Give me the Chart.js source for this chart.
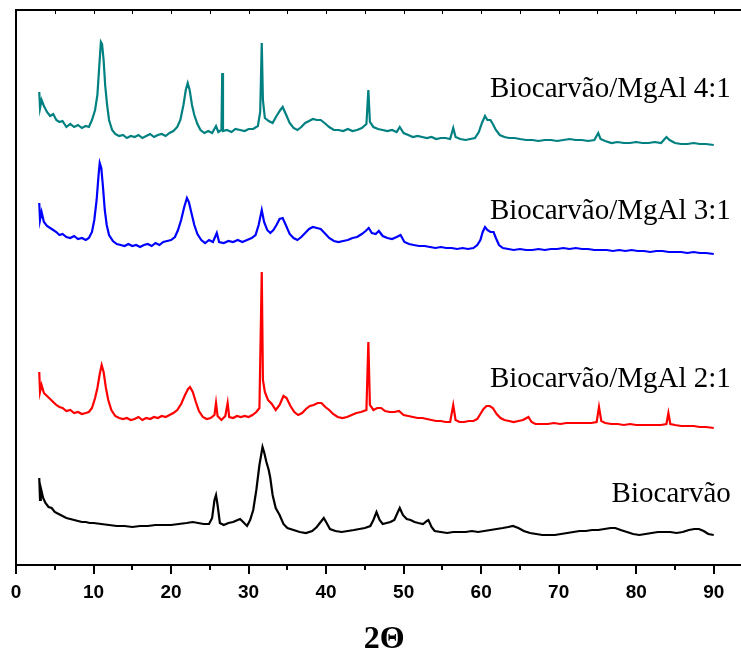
<!DOCTYPE html>
<html>
<head>
<meta charset="utf-8">
<script src="https://cdn.jsdelivr.net/npm/chart.js@4/dist/chart.umd.min.js"></script>
<style>
  html, body { margin: 0; padding: 0; background: #fff; overflow: hidden; }
  #wrap { width: 741px; height: 651px; overflow: hidden; }
</style>
</head>
<body>
<div id="wrap"><canvas id="myChart" width="768" height="651"></canvas></div>
<script>
// XRD patterns, [2theta, intensity (a.u., offset for stacking)]
const mgal41 = [[3.0,475],[3.1,459],[3.3,467],[3.6,461],[4.0,455],[4.4,451],[4.8,453],[5.2,447],[5.6,445],[6.0,446],[6.5,440],[7.0,443],[7.5,440],[8.0,442],[8.5,439],[9.0,441],[9.4,440],[9.8,447],[10.2,457],[10.5,472],[10.75,502],[10.95,525],[11.1,523],[11.3,507],[11.5,482],[11.75,462],[12.0,447],[12.4,437],[12.8,433],[13.3,431],[13.8,432],[14.3,429],[14.8,431],[15.3,430],[15.8,432],[16.3,429],[16.8,431],[17.3,433],[17.8,430],[18.3,432],[18.8,433],[19.3,431],[19.8,434],[20.3,436],[20.8,440],[21.2,447],[21.6,462],[21.9,477],[22.15,484],[22.4,477],[22.7,462],[23.0,452],[23.4,443],[23.8,437],[24.3,434],[24.8,436],[25.3,434],[25.8,441],[26.1,435],[26.5,437],[26.6,494],[26.7,436],[27.2,437],[27.8,435],[28.3,438],[28.9,437],[29.5,436],[30.0,438],[30.6,438],[31.2,441],[31.5,455],[31.7,524],[31.85,467],[32.1,449],[32.6,446],[33.1,444],[33.6,451],[34.1,457],[34.4,460],[34.8,453],[35.3,444],[35.8,439],[36.3,437],[36.8,440],[37.3,444],[37.8,446],[38.3,448],[38.8,447],[39.3,447],[39.8,444],[40.4,440],[41.0,437],[41.6,437],[42.2,436],[42.8,438],[43.4,436],[44.0,437],[44.6,439],[45.2,443],[45.45,477],[45.65,445],[46.1,440],[46.7,438],[47.3,437],[47.9,436],[48.5,437],[49.1,435],[49.5,440],[50.0,434],[50.6,432],[51.2,430],[51.8,431],[52.4,430],[53.0,429],[53.6,430],[54.2,428],[54.8,429],[55.4,429],[56.0,428],[56.4,439],[56.7,430],[57.3,428],[58.0,427],[58.6,428],[59.2,429],[59.7,435],[60.1,444],[60.5,451],[60.8,447],[61.2,447],[61.5,443],[61.9,437],[62.4,432],[63.0,430],[63.6,429],[64.3,429],[65.0,428],[65.8,427],[66.6,427],[67.4,426],[68.2,427],[69.0,427],[69.8,426],[70.6,427],[71.4,428],[72.2,427],[73.0,427],[73.8,426],[74.6,427],[75.1,434],[75.4,428],[76.0,426],[76.8,424],[77.6,425],[78.4,424],[79.2,424],[80.0,425],[80.8,424],[81.6,424],[82.4,425],[83.2,424],[83.9,430],[84.3,427],[85.0,424],[85.8,423],[86.6,423],[87.4,424],[88.2,423],[89.0,423],[90.0,422]];

const mgal31 = [[3.0,364],[3.1,347],[3.3,355],[3.6,345],[4.0,341],[4.4,339],[4.8,337],[5.2,335],[5.6,332],[6.0,333],[6.5,330],[7.0,329],[7.5,331],[8.0,328],[8.5,329],[9.0,327],[9.4,329],[9.8,335],[10.1,347],[10.4,367],[10.65,392],[10.8,404],[11.0,399],[11.2,382],[11.45,357],[11.7,342],[12.0,332],[12.5,326],[13.0,323],[13.5,322],[14.0,321],[14.5,323],[15.0,321],[15.5,322],[16.0,320],[16.5,322],[17.0,323],[17.5,321],[18.0,324],[18.5,322],[19.0,325],[19.5,326],[20.0,327],[20.5,330],[20.9,337],[21.3,347],[21.7,360],[22.05,369],[22.3,365],[22.6,355],[23.0,342],[23.4,333],[23.9,327],[24.4,324],[24.9,327],[25.4,325],[25.9,334],[26.2,325],[26.8,324],[27.4,326],[28.0,325],[28.6,327],[29.2,325],[29.8,327],[30.4,329],[30.9,332],[31.3,342],[31.7,357],[32.0,345],[32.4,337],[32.8,334],[33.2,337],[33.6,342],[34.0,348],[34.4,349],[34.8,342],[35.3,333],[35.8,329],[36.3,327],[36.8,330],[37.3,334],[37.8,338],[38.3,340],[38.8,339],[39.3,338],[39.8,334],[40.4,329],[41.0,326],[41.6,325],[42.2,326],[42.8,327],[43.4,329],[44.0,330],[44.6,333],[45.1,336],[45.5,339],[45.9,334],[46.4,333],[46.8,336],[47.3,331],[47.9,329],[48.5,328],[49.1,330],[49.6,332],[50.1,325],[50.7,323],[51.3,322],[52.0,321],[52.7,321],[53.4,320],[54.1,319],[54.8,320],[55.5,319],[56.2,319],[56.9,318],[57.6,319],[58.3,318],[59.0,319],[59.5,322],[59.9,327],[60.2,335],[60.5,340],[60.8,337],[61.2,335],[61.6,335],[61.9,329],[62.3,322],[62.8,319],[63.5,318],[64.2,317],[65.0,318],[65.8,317],[66.6,317],[67.4,318],[68.2,317],[69.0,318],[69.8,318],[70.6,319],[71.4,318],[72.2,319],[73.0,318],[73.8,318],[74.6,317],[75.4,317],[76.2,317],[77.0,316],[77.8,317],[78.6,316],[79.4,317],[80.2,316],[81.0,316],[81.8,315],[82.6,316],[83.4,316],[84.2,315],[85.0,315],[85.8,315],[86.6,314],[87.4,315],[88.2,314],[89.0,314],[90.0,313]];

const mgal21 = [[3.0,195],[3.1,175],[3.3,182],[3.6,174],[4.0,171],[4.4,168],[4.8,165],[5.2,162],[5.6,160],[6.0,159],[6.5,156],[7.0,157],[7.5,154],[8.0,155],[8.5,153],[9.0,154],[9.4,155],[9.8,159],[10.2,169],[10.5,179],[10.8,193],[11.05,202],[11.3,195],[11.6,179],[11.9,167],[12.3,157],[12.8,151],[13.3,149],[13.8,148],[14.3,149],[14.8,147],[15.3,148],[15.8,150],[16.3,147],[16.8,149],[17.3,148],[17.8,150],[18.3,149],[18.8,151],[19.3,150],[19.8,152],[20.3,154],[20.8,157],[21.3,163],[21.8,172],[22.2,178],[22.45,180],[22.8,175],[23.2,165],[23.6,156],[24.1,150],[24.6,148],[25.1,149],[25.6,152],[25.8,164],[26.0,151],[26.5,147],[27.0,151],[27.3,164],[27.5,150],[28.0,149],[28.5,151],[29.0,150],[29.5,151],[30.0,150],[30.5,152],[31.0,155],[31.4,159],[31.7,295],[31.85,187],[32.1,175],[32.5,167],[33.0,163],[33.5,157],[34.0,162],[34.5,171],[34.9,169],[35.4,161],[35.9,155],[36.4,152],[36.9,154],[37.4,158],[37.9,161],[38.4,162],[38.9,164],[39.4,164],[39.9,160],[40.4,157],[40.9,153],[41.5,150],[42.1,149],[42.7,150],[43.3,152],[43.9,154],[44.5,155],[45.2,157],[45.45,225],[45.65,162],[46.1,157],[46.6,159],[47.1,159],[47.6,156],[48.2,155],[48.8,155],[49.4,156],[50.0,152],[50.6,151],[51.2,150],[51.8,149],[52.4,149],[53.0,148],[53.6,147],[54.2,146],[54.8,146],[55.4,145],[56.0,145],[56.4,162],[56.7,147],[57.2,145],[57.8,145],[58.4,146],[59.0,146],[59.5,148],[59.9,153],[60.3,158],[60.7,161],[61.1,161],[61.5,159],[62.0,153],[62.5,149],[63.0,147],[63.6,146],[64.2,145],[64.8,146],[65.4,147],[66.1,150],[66.5,145],[67.0,143],[67.8,143],[68.6,143],[69.4,144],[70.2,143],[71.0,144],[71.8,144],[72.6,144],[73.4,144],[74.2,144],[74.9,145],[75.2,160],[75.5,146],[76.0,144],[76.8,143],[77.6,143],[78.4,142],[79.2,143],[80.0,142],[80.8,142],[81.6,142],[82.4,142],[83.2,142],[83.9,143],[84.15,154],[84.4,143],[85.0,142],[85.8,141],[86.6,141],[87.4,141],[88.2,140],[89.0,140],[90.0,139]];

const biochar = [[3.0,89],[3.1,67],[3.2,79],[3.5,69],[3.8,64],[4.2,60],[4.6,59],[5.0,55],[5.5,53],[6.0,51],[6.5,49],[7.0,48],[7.5,47],[8.0,46],[8.5,45],[9.0,45],[9.5,44],[10.0,44],[11.0,43],[12.0,42],[13.0,41],[14.0,41],[15.0,40],[16.0,41],[17.0,41],[18.0,42],[19.0,42],[20.0,42],[21.0,43],[22.0,44],[22.8,45],[23.5,44],[24.2,43],[24.9,43],[25.3,49],[25.6,67],[25.8,72],[26.0,62],[26.3,44],[26.8,42],[27.4,44],[28.0,45],[28.6,47],[28.9,48],[29.3,45],[29.8,41],[30.2,47],[30.6,57],[31.0,77],[31.4,102],[31.8,120],[32.0,115],[32.3,105],[32.6,97],[32.8,89],[33.1,72],[33.5,59],[34.0,52],[34.5,43],[35.0,39],[35.8,37],[36.6,35],[37.4,34],[38.2,36],[38.8,40],[39.4,46],[39.7,49],[40.0,45],[40.5,38],[41.2,36],[42.0,35],[42.8,36],[43.6,37],[44.3,38],[45.0,39],[45.7,41],[46.1,47],[46.5,55],[46.9,47],[47.3,43],[47.8,44],[48.3,45],[48.8,47],[49.2,54],[49.5,59],[49.9,52],[50.4,48],[50.9,47],[51.4,45],[51.9,44],[52.5,43],[53.0,46],[53.2,47],[53.6,40],[54.0,36],[54.8,35],[55.6,34],[56.4,35],[57.2,35],[58.0,35],[58.8,36],[59.6,35],[60.4,36],[61.2,37],[62.0,38],[62.8,39],[63.5,40],[64.1,41],[64.8,39],[65.5,36],[66.3,34],[67.1,33],[67.9,32],[68.7,32],[69.5,32],[70.3,33],[71.1,34],[71.9,35],[72.7,36],[73.5,36],[74.3,37],[75.1,37],[75.9,38],[76.7,39],[77.3,39],[78.0,37],[78.8,35],[79.6,33],[80.4,32],[81.2,33],[82.0,34],[82.8,35],[83.6,35],[84.4,35],[85.2,34],[86.0,35],[86.8,37],[87.5,38],[88.1,38],[88.7,36],[89.3,33],[90.0,32]];

const seriesNames = ["Biocarvão/MgAl 4:1", "Biocarvão/MgAl 3:1", "Biocarvão/MgAl 2:1", "Biocarvão"];
const seriesColors = ["#008080", "#0000ff", "#ff0000", "#000000"];
const seriesData = [mgal41, mgal31, mgal21, biochar];
// where each curve's name sits: [2theta of right edge, intensity of baseline]
const labelAnchors = [[92.2, 470], [92.2, 348], [92.2, 180], [92.2, 65]];
const majorTicks = [0, 10, 20, 30, 40, 50, 60, 70, 80, 90];
const xTitle = "2Θ";

const frameAndLabels = {
  id: "frameAndLabels",
  afterDraw(chart) {
    const { ctx, chartArea, scales } = chart;
    const x = scales.x, y = scales.y;
    ctx.save();
    ctx.strokeStyle = "#000";
    // top frame line
    ctx.lineWidth = 2;
    ctx.beginPath();
    ctx.moveTo(chartArea.left - 1, chartArea.top);
    ctx.lineTo(chartArea.right, chartArea.top);
    ctx.stroke();
    // ticks every 5 degrees
    for (let v = 0; v <= x.max; v += 5) {
      const px = Math.round(x.getPixelForValue(v));
      const major = v % 10 === 0;
      ctx.lineWidth = 2;
      ctx.beginPath();
      ctx.moveTo(px, chartArea.bottom);
      ctx.lineTo(px, chartArea.bottom + (major ? 9 : 5));
      ctx.stroke();
      if (v > 0) {
        ctx.lineWidth = 1;
        ctx.beginPath();
        ctx.moveTo(px + 0.5, chartArea.top);
        ctx.lineTo(px + 0.5, chartArea.top + 4);
        ctx.stroke();
      }
    }
    ctx.fillStyle = "#000";
    // axis title, centred under the 0-90 range
    ctx.font = "bold 32px 'Liberation Serif', 'Times New Roman', serif";
    ctx.textAlign = "center";
    ctx.textBaseline = "alphabetic";
    ctx.fillText(xTitle, x.getPixelForValue(47.5), chartArea.bottom + 83);
    // series names
    ctx.font = "29px 'Liberation Serif', 'Times New Roman', serif";
    ctx.textAlign = "right";
    seriesNames.forEach((name, i) => {
      const a = labelAnchors[i];
      ctx.fillText(name, x.getPixelForValue(a[0]), y.getPixelForValue(a[1]));
    });
    ctx.restore();
  }
};

new Chart(document.getElementById("myChart"), {
  type: "line",
  data: {
    datasets: seriesData.map((d, i) => ({
      label: seriesNames[i],
      data: d.map(p => ({ x: p[0], y: p[1] })),
      borderColor: seriesColors[i],
      borderWidth: 2.2,
      pointRadius: 0,
      tension: 0,
      fill: false,
    })),
  },
  options: {
    responsive: false,
    animation: false,
    events: [],
    layout: { padding: { top: 10, right: 0, bottom: 0, left: 0 } },
    plugins: { legend: { display: false }, tooltip: { enabled: false } },
    scales: {
      x: {
        type: "linear",
        min: 0,
        max: 97,
        grid: { display: false },
        border: { display: true, color: "#000", width: 2 },
        afterFit: s => { s.height = 86; s.paddingLeft = 0; s.paddingRight = 0; },
        afterBuildTicks: s => { s.ticks = majorTicks.map(v => ({ value: v })); },
        ticks: {
          autoSkip: false,
          maxRotation: 0,
          padding: 8,
          color: "#000",
          font: { family: "'Liberation Sans', Arial, sans-serif", size: 19, weight: "bold" },
        },
      },
      y: {
        min: 2,
        max: 557,
        grid: { display: false },
        border: { display: true, color: "#000", width: 2 },
        ticks: { display: false },
        afterFit: s => { s.width = 16; },
      },
    },
  },
  plugins: [frameAndLabels],
});
</script>
</body>
</html>
